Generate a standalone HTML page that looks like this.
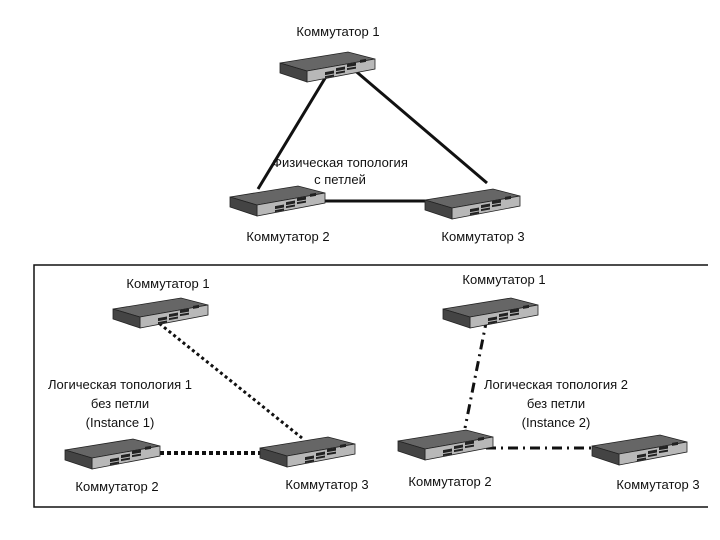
<!DOCTYPE html>
<html><head><meta charset="utf-8"><style>
html,body{margin:0;padding:0;background:#fff;}
svg{display:block;}
text{font-family:"Liberation Sans",sans-serif;font-size:13px;fill:#111;}
</style></head><body>
<svg width="720" height="540" viewBox="0 0 720 540" xmlns="http://www.w3.org/2000/svg">
<defs>
<g id="sw">
<polygon points="0,11 68,0 95,7 27,19" fill="#666" stroke="#222" stroke-width="0.8"/>
<polygon points="27,19 95,7 95,17 27,30" fill="#b8b8b8" stroke="#222" stroke-width="0.8"/>
<polygon points="0,11 27,19 27,30 0,21" fill="#444" stroke="#222" stroke-width="0.8"/>
<g fill="#222">
<rect x="45" y="20" width="9" height="3" transform="skewY(-10) translate(0,8)"/>
<rect x="56" y="18" width="9" height="3" transform="skewY(-10) translate(0,8)"/>
<rect x="67" y="16" width="9" height="3" transform="skewY(-10) translate(0,8)"/>
<rect x="80" y="14" width="6" height="3" transform="skewY(-10) translate(0,8)"/>
<rect x="45" y="24" width="9" height="2" transform="skewY(-10) translate(0,8)"/>
<rect x="56" y="22" width="9" height="2" transform="skewY(-10) translate(0,8)"/>
<rect x="67" y="20" width="9" height="2" transform="skewY(-10) translate(0,8)"/>
</g>
</g>
</defs>

<g stroke="#111" stroke-width="3" fill="none">
<line x1="330" y1="70" x2="258" y2="189"/>
<line x1="352" y1="68" x2="487" y2="183"/>
<line x1="322" y1="201" x2="428" y2="201"/>
</g>
<use href="#sw" x="280" y="52"/>
<use href="#sw" x="230" y="186"/>
<use href="#sw" x="425" y="189"/>
<text x="338" y="36" text-anchor="middle">Коммутатор 1</text>
<text x="340" y="167" text-anchor="middle">Физическая топология</text>
<text x="340" y="184" text-anchor="middle">с петлей</text>
<text x="288" y="241" text-anchor="middle">Коммутатор 2</text>
<text x="483" y="241" text-anchor="middle">Коммутатор 3</text>

<polyline points="708,265 34,265 34,507 708,507" fill="none" stroke="#111" stroke-width="1.5"/>

<g stroke="#111" fill="none">
<line x1="150" y1="316" x2="302" y2="438" stroke-width="3" stroke-dasharray="3,3"/>
<line x1="160" y1="453" x2="262" y2="453" stroke-width="4" stroke-dasharray="4,3"/>
</g>
<use href="#sw" x="113" y="298"/>
<use href="#sw" x="65" y="439"/>
<use href="#sw" x="260" y="437"/>
<text x="168" y="288" text-anchor="middle">Коммутатор 1</text>
<text x="120" y="389" text-anchor="middle">Логическая топология 1</text>
<text x="120" y="408" text-anchor="middle">без петли</text>
<text x="120" y="427" text-anchor="middle">(Instance 1)</text>
<text x="117" y="491" text-anchor="middle">Коммутатор 2</text>
<text x="327" y="489" text-anchor="middle">Коммутатор 3</text>

<g stroke="#111" fill="none">
<line x1="487" y1="318" x2="465" y2="428" stroke-width="3" stroke-dasharray="10,5,2,5"/>
<line x1="486" y1="448" x2="592" y2="448" stroke-width="3" stroke-dasharray="10,5,2,5"/>
</g>
<use href="#sw" x="443" y="298"/>
<use href="#sw" x="398" y="430"/>
<use href="#sw" x="592" y="435"/>
<text x="504" y="284" text-anchor="middle">Коммутатор 1</text>
<text x="556" y="389" text-anchor="middle">Логическая топология 2</text>
<text x="556" y="408" text-anchor="middle">без петли</text>
<text x="556" y="427" text-anchor="middle">(Instance 2)</text>
<text x="450" y="486" text-anchor="middle">Коммутатор 2</text>
<text x="658" y="489" text-anchor="middle">Коммутатор 3</text>
</svg>
</body></html>
